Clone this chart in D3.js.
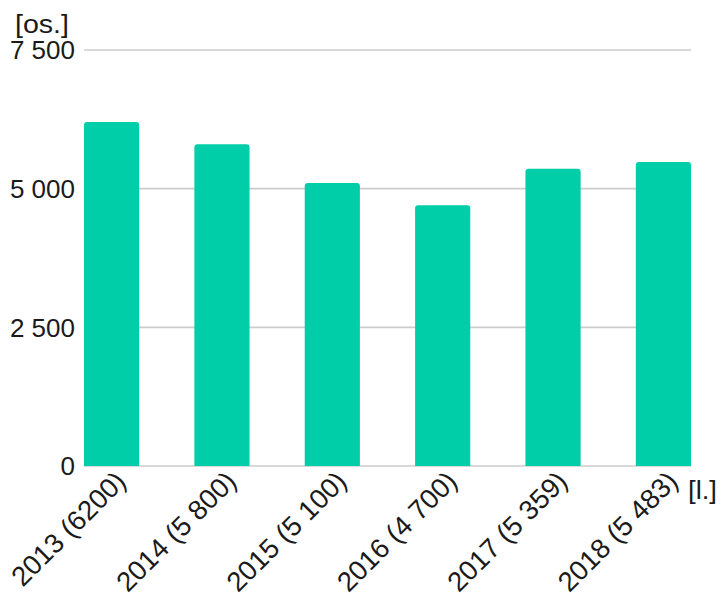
<!DOCTYPE html>
<html><head><meta charset="utf-8">
<script src="https://cdn.jsdelivr.net/npm/d3@7"></script>
<style>body{margin:0;background:#fff}svg{display:block;font-family:"Liberation Sans",Arial,sans-serif}</style>
</head><body>
<script>
const categories = ["2013", "2014", "2015", "2016", "2017", "2018"];
const values = [6200, 5800, 5100, 4700, 5359, 5483];
const valueLabels = ["6200", "5 800", "5 100", "4 700", "5 359", "5 483"];
const yTicks = [0, 2500, 5000, 7500];
const yTickLabels = ["0", "2 500", "5 000", "7 500"];

const W = 721, H = 593;
const svg = d3.select("body").append("svg").attr("width", W).attr("height", H);
const x = d3.scaleBand().domain(categories).range([84, 691]).paddingInner(0.5).paddingOuter(0);
const y = d3.scaleLinear().domain([0, 7500]).range([466, 50]);
const txt = "#1a1a1a";

// grid
svg.append("g").selectAll("line").data(yTicks).join("line")
  .attr("x1", 84).attr("x2", 691)
  .attr("y1", d => y(d)).attr("y2", d => y(d))
  .attr("stroke", "#cccccc").attr("stroke-width", 1.6);

// y labels
svg.append("g").selectAll("text").data(yTicks).join("text")
  .attr("x", 75).attr("y", d => y(d)).attr("dy", "0.36em")
  .attr("text-anchor", "end").attr("font-size", 26).attr("fill", txt)
  .text((d, i) => yTickLabels[i]);

// bars with rounded top
const r = 3;
svg.append("g").selectAll("path").data(values).join("path")
  .attr("fill", "#00cea8")
  .attr("d", (d, i) => {
    const x0 = x(categories[i]), w = x.bandwidth(), y0 = y(d), yb = y(0);
    return `M${x0},${yb}V${y0 + r}Q${x0},${y0} ${x0 + r},${y0}H${x0 + w - r}Q${x0 + w},${y0} ${x0 + w},${y0 + r}V${yb}Z`;
  });

// x labels
svg.append("g").selectAll("text").data(categories).join("text")
  .attr("transform", d => `translate(${x(d) + x.bandwidth() / 2 + 16},${483}) rotate(-45)`)
  .attr("text-anchor", "end").attr("font-size", 27.5).attr("fill", txt)
  .text((d, i) => `${d} (${valueLabels[i]})`);

svg.append("text").attr("x", 15).attr("y", 33).attr("font-size", 25).attr("fill", txt)
  .attr("textLength", 54).attr("lengthAdjust", "spacingAndGlyphs").text("[os.]");
svg.append("text").attr("x", 688).attr("y", 499).attr("font-size", 25).attr("fill", txt)
  .attr("textLength", 29).attr("lengthAdjust", "spacingAndGlyphs").text("[l.]");
</script>
</body></html>
